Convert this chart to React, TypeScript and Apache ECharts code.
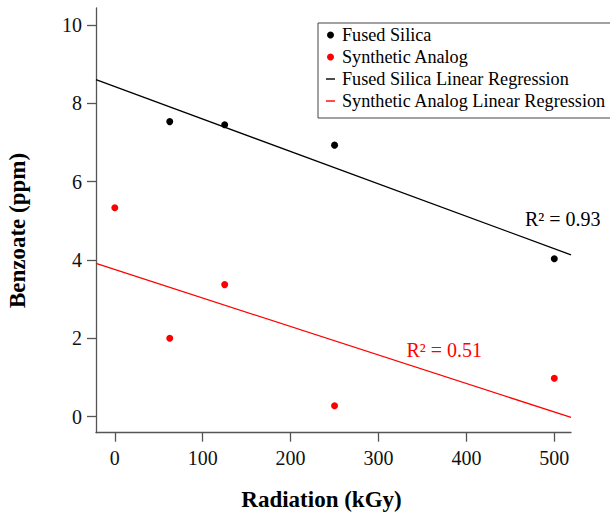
import React, { useEffect, useRef } from "react";
import * as echarts from "echarts";

const seriesNames = [
  "Fused Silica",
  "Synthetic Analog",
  "Fused Silica Linear Regression",
  "Synthetic Analog Linear Regression",
];
const fusedX = [62.5, 125, 250, 500];
const fusedY = [7.53, 7.45, 6.93, 4.03];
const synthX = [0, 62.5, 125, 250, 500];
const synthY = [5.33, 2.0, 3.37, 0.28, 0.98];
const fusedFitX = [-21.4, 519];
const fusedFitY = [8.6, 4.13];
const synthFitX = [-21.4, 519];
const synthFitY = [3.91, -0.02];
const xTicks = [0, 100, 200, 300, 400, 500];
const yTicks = [0, 2, 4, 6, 8, 10];
const r2Labels = ["R\u00B2 = 0.93", "R\u00B2 = 0.51"];
const xTitle = "Radiation (kGy)";
const yTitle = "Benzoate (ppm)";

const FONT = '"Liberation Serif", "Times New Roman", serif';

const pairs = (xs: number[], ys: number[]) => xs.map((x, i) => [x, ys[i]]);

export default function App() {
  const ref = useRef<HTMLDivElement>(null);
  useEffect(() => {
    const chart = echarts.init(ref.current!, null, { renderer: "svg" });
    const axisColor = "#555";
    const option: any = {
      animation: false,
      backgroundColor: "#fff",
      grid: { left: 96, right: 39, top: 8, bottom: 79.3, containLabel: false },
      xAxis: {
        type: "value",
        min: -21.4,
        max: 519,
        axisLine: { show: true, onZero: false, lineStyle: { color: axisColor, width: 1.3 } },
        axisTick: { show: true, inside: false, length: 9, customValues: xTicks, lineStyle: { color: axisColor, width: 1.3 } },
        axisLabel: { customValues: xTicks, margin: 15, fontSize: 20, fontFamily: FONT, color: "#111" },
        splitLine: { show: false },
      },
      yAxis: {
        type: "value",
        min: -0.41,
        max: 10.43,
        axisLine: { show: true, onZero: false, lineStyle: { color: axisColor, width: 1.3 } },
        axisTick: { show: true, inside: false, length: 9, customValues: yTicks, lineStyle: { color: axisColor, width: 1.3 } },
        axisLabel: { customValues: yTicks, margin: 14, fontSize: 20, fontFamily: FONT, color: "#111" },
        splitLine: { show: false },
      },
      legend: {
        orient: "vertical",
        left: 318,
        top: 23,
        selectedMode: false,
        itemWidth: 9,
        itemHeight: 7,
        itemGap: 4,
        padding: [3, 30, 8, 8],
        borderColor: "#444",
        borderWidth: 1,
        textStyle: { fontFamily: FONT, fontSize: 18.2, color: "#000", lineHeight: 18, padding: [0, 0, 0, 2] },
        data: [
          { name: seriesNames[0], icon: "circle" },
          { name: seriesNames[1], icon: "circle" },
          { name: seriesNames[2], icon: "path://M0,0H9V1.4H0Z" },
          { name: seriesNames[3], icon: "path://M0,0H9V1.4H0Z" },
        ],
      },
      series: [
        {
          name: seriesNames[2],
          type: "line",
          data: pairs(fusedFitX, fusedFitY),
          symbol: "none",
          color: "#000",
          lineStyle: { color: "#000", width: 1.3 },
        },
        {
          name: seriesNames[3],
          type: "line",
          data: pairs(synthFitX, synthFitY),
          symbol: "none",
          color: "#ff0000",
          lineStyle: { color: "#ff0000", width: 1.3 },
        },
        {
          name: seriesNames[0],
          type: "scatter",
          data: pairs(fusedX, fusedY),
          symbolSize: 7,
          color: "#000",
          itemStyle: { color: "#000", opacity: 1 },
        },
        {
          name: seriesNames[1],
          type: "scatter",
          data: pairs(synthX, synthY),
          symbolSize: 7,
          color: "#ff0000",
          itemStyle: { color: "#ff0000", opacity: 1 },
        },
      ],
      graphic: [
        {
          type: "text",
          x: 321.5,
          y: 499,
          style: {
            text: xTitle,
            font: `bold 23px ${FONT}`,
            fill: "#000",
            align: "center",
            textAlign: "center",
            verticalAlign: "middle",
            textVerticalAlign: "middle",
          },
        },
        {
          type: "text",
          x: 17,
          y: 230.5,
          rotation: Math.PI / 2,
          style: {
            text: yTitle,
            font: `bold 23px ${FONT}`,
            fill: "#000",
            align: "center",
            textAlign: "center",
            verticalAlign: "middle",
            textVerticalAlign: "middle",
          },
        },
        {
          type: "text",
          x: 525,
          y: 219,
          style: {
            text: r2Labels[0],
            font: `20px ${FONT}`,
            fill: "#000",
            align: "left",
            textAlign: "left",
            verticalAlign: "middle",
            textVerticalAlign: "middle",
          },
        },
        {
          type: "text",
          x: 406.5,
          y: 350,
          style: {
            text: r2Labels[1],
            font: `20px ${FONT}`,
            fill: "#ff0000",
            align: "left",
            textAlign: "left",
            verticalAlign: "middle",
            textVerticalAlign: "middle",
          },
        },
      ],
    };
    chart.setOption(option);
    return () => chart.dispose();
  }, []);
  return (
    <div
      ref={ref}
      style={{ position: "absolute", left: 0, top: 0, width: 610, height: 512 }}
    />
  );
}
